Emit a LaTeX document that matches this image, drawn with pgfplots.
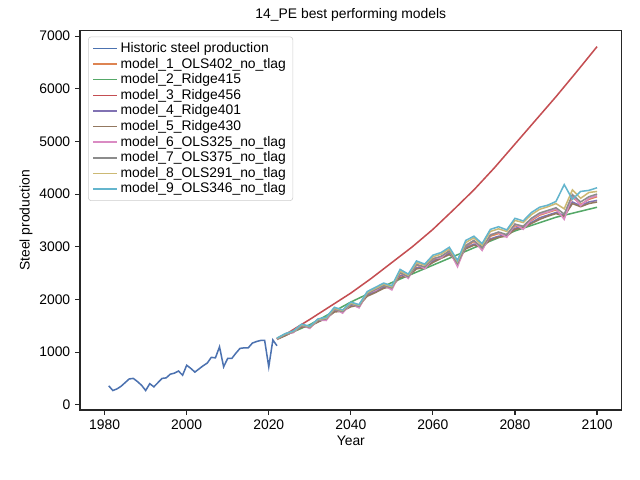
\documentclass[border=0pt]{standalone}
\usepackage{pgfplots}
\pgfplotsset{compat=1.18}
\usepackage{fontspec}
\setmainfont{Liberation Sans}
\definecolor{c0}{HTML}{4C72B0}
\definecolor{c1}{HTML}{DD8452}
\definecolor{c2}{HTML}{55A868}
\definecolor{c3}{HTML}{C44E52}
\definecolor{c4}{HTML}{8172B3}
\definecolor{c5}{HTML}{937860}
\definecolor{c6}{HTML}{DA8BC3}
\definecolor{c7}{HTML}{8C8C8C}
\definecolor{c8}{HTML}{CCB974}
\definecolor{c9}{HTML}{64B5CD}
\begin{document}
\begin{tikzpicture}
\path[use as bounding box] (-57.6pt,-50.4pt) rectangle (403.2pt,295.2pt);
\begin{axis}[
 scale only axis, width=390pt, height=273pt,
 at={(0,0)}, anchor=south west,
 axis line style={black!85, line width=0.8pt},
 xmin=1974, xmax=2106, ymin=-100, ymax=7100,
 xtick={1980,2000,2020,2040,2060,2080,2100},
 ytick={0,1000,2000,3000,4000,5000,6000,7000},
 scaled ticks=false, /pgf/number format/set thousands separator={},
 /pgf/number format/assume math mode=true,
 tick align=outside, tick pos=left, major tick length=3.5pt,
 tick style={black!85, line width=0.8pt},
 ticklabel style={font=\normalsize},
 xlabel={Year}, ylabel={Steel production},
 label style={font=\normalsize},
 xlabel style={yshift=2pt}, ylabel style={yshift=-2pt},
 title={14\_PE best performing models}, title style={font=\normalsize, yshift=-3pt},
 legend pos=north west, legend cell align=left,
 legend style={font=\normalsize, draw=black!20, rounded corners=2pt, row sep=-1.5pt, at={(0.015,0.985)}},
 every axis plot/.append style={line width=1.1pt},
]
\addplot[c0] coordinates {(1981,360)(1982,270)(1983,300)(1984,350)(1985,420)(1986,490)(1987,500)(1988,440)(1989,370)(1990,270)(1991,400)(1992,340)(1993,420)(1994,500)(1995,510)(1996,580)(1997,600)(1998,640)(1999,560)(2000,750)(2001,690)(2002,620)(2003,680)(2004,740)(2005,790)(2006,900)(2007,890)(2008,1100)(2009,720)(2010,880)(2011,880)(2012,980)(2013,1070)(2014,1080)(2015,1080)(2016,1170)(2017,1200)(2018,1220)(2019,1220)(2020,720)(2021,1230)(2022,1120)};
\addlegendentry{Historic steel production}
\addplot[c1] coordinates {(2022,1250)(2024,1330)(2026,1380)(2028,1500)(2030,1460)(2032,1600)(2034,1620)(2036,1800)(2038,1760)(2040,1900)(2042,1850)(2044,2100)(2046,2180)(2048,2250)(2050,2200)(2052,2500)(2054,2420)(2056,2650)(2058,2600)(2060,2750)(2062,2800)(2064,2900)(2066,2650)(2068,3000)(2070,3100)(2072,2950)(2074,3200)(2076,3250)(2078,3200)(2080,3400)(2082,3350)(2084,3500)(2086,3600)(2088,3650)(2090,3700)(2092,3550)(2094,3950)(2096,3800)(2098,3900)(2100,3950)};
\addlegendentry{model\_1\_OLS402\_no\_tlag}
\addplot[c2] coordinates {(2022,1250)(2030,1520)(2040,1950)(2050,2320)(2060,2650)(2070,2980)(2080,3300)(2090,3560)(2100,3750)};
\addlegendentry{model\_2\_Ridge415}
\addplot[c3] coordinates {(2022,1250)(2025,1380)(2030,1620)(2035,1870)(2040,2120)(2045,2400)(2050,2700)(2055,3000)(2060,3330)(2065,3700)(2070,4080)(2075,4500)(2080,4950)(2085,5400)(2090,5850)(2095,6320)(2100,6800)};
\addlegendentry{model\_3\_Ridge456}
\addplot[c4] coordinates {(2022,1260)(2024,1320)(2026,1400)(2028,1480)(2030,1500)(2032,1580)(2034,1650)(2036,1780)(2038,1790)(2040,1880)(2042,1900)(2044,2080)(2046,2150)(2048,2230)(2050,2260)(2052,2450)(2054,2450)(2056,2600)(2058,2620)(2060,2720)(2062,2800)(2064,2870)(2066,2750)(2068,2980)(2070,3050)(2072,3000)(2074,3150)(2076,3200)(2078,3220)(2080,3350)(2082,3380)(2084,3460)(2086,3550)(2088,3600)(2090,3650)(2092,3600)(2094,3850)(2096,3780)(2098,3850)(2100,3880)};
\addlegendentry{model\_4\_Ridge401}
\addplot[c5] coordinates {(2022,1240)(2024,1310)(2026,1390)(2028,1470)(2030,1490)(2032,1570)(2034,1640)(2036,1760)(2038,1780)(2040,1860)(2042,1890)(2044,2060)(2046,2130)(2048,2210)(2050,2250)(2052,2420)(2054,2440)(2056,2580)(2058,2600)(2060,2700)(2062,2780)(2064,2850)(2066,2740)(2068,2960)(2070,3030)(2072,2990)(2074,3130)(2076,3180)(2078,3200)(2080,3330)(2082,3360)(2084,3440)(2086,3520)(2088,3580)(2090,3630)(2092,3580)(2094,3820)(2096,3760)(2098,3820)(2100,3850)};
\addlegendentry{model\_5\_Ridge430}
\addplot[c6] coordinates {(2022,1250)(2024,1340)(2026,1370)(2028,1510)(2030,1450)(2032,1610)(2034,1600)(2036,1820)(2038,1740)(2040,1920)(2042,1840)(2044,2120)(2046,2170)(2048,2270)(2050,2180)(2052,2520)(2054,2400)(2056,2680)(2058,2580)(2060,2780)(2062,2790)(2064,2930)(2066,2620)(2068,3030)(2070,3120)(2072,2930)(2074,3230)(2076,3270)(2078,3180)(2080,3430)(2082,3330)(2084,3520)(2086,3620)(2088,3660)(2090,3720)(2092,3520)(2094,3980)(2096,3780)(2098,3920)(2100,3970)};
\addlegendentry{model\_6\_OLS325\_no\_tlag}
\addplot[c7] coordinates {(2022,1255)(2024,1335)(2026,1385)(2028,1505)(2030,1470)(2032,1605)(2034,1630)(2036,1810)(2038,1770)(2040,1910)(2042,1870)(2044,2110)(2046,2190)(2048,2260)(2050,2220)(2052,2510)(2054,2430)(2056,2660)(2058,2620)(2060,2770)(2062,2820)(2064,2920)(2066,2680)(2068,3020)(2070,3120)(2072,2980)(2074,3220)(2076,3280)(2078,3230)(2080,3430)(2082,3390)(2084,3540)(2086,3640)(2088,3690)(2090,3740)(2092,3620)(2094,3990)(2096,3850)(2098,3950)(2100,4000)};
\addlegendentry{model\_7\_OLS375\_no\_tlag}
\addplot[c8] coordinates {(2022,1260)(2024,1345)(2026,1395)(2028,1520)(2030,1480)(2032,1620)(2034,1645)(2036,1830)(2038,1790)(2040,1930)(2042,1890)(2044,2130)(2046,2210)(2048,2290)(2050,2240)(2052,2540)(2054,2460)(2056,2700)(2058,2650)(2060,2810)(2062,2860)(2064,2960)(2066,2720)(2068,3080)(2070,3170)(2072,3030)(2074,3290)(2076,3340)(2078,3290)(2080,3500)(2082,3460)(2084,3610)(2086,3710)(2088,3760)(2090,3820)(2092,3720)(2094,4080)(2096,3920)(2098,4030)(2100,4050)};
\addlegendentry{model\_8\_OLS291\_no\_tlag}
\addplot[c9] coordinates {(2022,1265)(2024,1350)(2026,1400)(2028,1530)(2030,1490)(2032,1630)(2034,1660)(2036,1850)(2038,1800)(2040,1950)(2042,1900)(2044,2150)(2046,2230)(2048,2310)(2050,2260)(2052,2570)(2054,2480)(2056,2730)(2058,2670)(2060,2840)(2062,2890)(2064,2990)(2066,2740)(2068,3120)(2070,3200)(2072,3060)(2074,3330)(2076,3380)(2078,3320)(2080,3540)(2082,3490)(2084,3650)(2086,3750)(2088,3790)(2090,3860)(2092,4180)(2094,3900)(2096,4050)(2098,4070)(2100,4120)};
\addlegendentry{model\_9\_OLS346\_no\_tlag}
\end{axis}
\end{tikzpicture}
\end{document}
